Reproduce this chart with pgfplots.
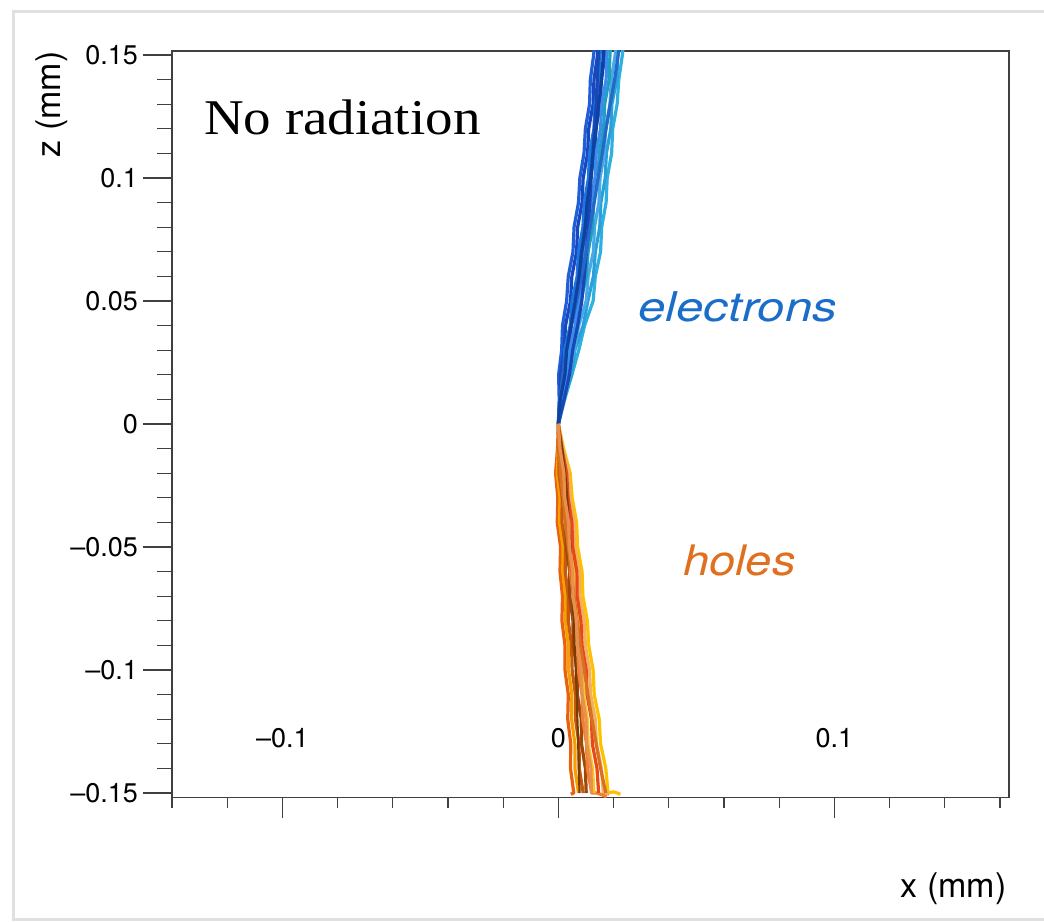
\documentclass[border=0pt]{standalone}
\usepackage{pgfplots}
\pgfplotsset{compat=1.18}
\usepackage{fontspec}
\setmainfont{TeX Gyre Heros}
\newfontfamily\timesf[FakeStretch=1.1]{Liberation Serif}
\newfontfamily\helvst[FakeStretch=1.12]{TeX Gyre Heros}
\newfontfamily\helvstw[FakeStretch=1.2]{TeX Gyre Heros}
\definecolor{etext}{HTML}{1A6EC8}
\definecolor{htext}{HTML}{E07020}
\definecolor{eA}{HTML}{1F5FD8}\definecolor{eB}{HTML}{1848C0}\definecolor{eC}{HTML}{2AA0D8}
\definecolor{eD}{HTML}{1A78E0}\definecolor{eE}{HTML}{3C8CF0}\definecolor{eF}{HTML}{1458B0}
\definecolor{eG}{HTML}{30B0E0}\definecolor{eH}{HTML}{2468C8}\definecolor{eI}{HTML}{48A8E8}
\definecolor{eJ}{HTML}{1848B8}\definecolor{eK}{HTML}{20A0C0}\definecolor{eL}{HTML}{1040A0}
\definecolor{hA}{HTML}{E86010}\definecolor{hB}{HTML}{F5A000}\definecolor{hC}{HTML}{C85A10}
\definecolor{hD}{HTML}{FFC000}\definecolor{hE}{HTML}{A04808}\definecolor{hF}{HTML}{F08030}
\definecolor{hG}{HTML}{E84818}\definecolor{hH}{HTML}{F0B060}\definecolor{hI}{HTML}{D87020}
\definecolor{hJ}{HTML}{7A3C00}\definecolor{hK}{HTML}{F8C820}\definecolor{hL}{HTML}{E89050}
\begin{document}
\begin{tikzpicture}
\useasboundingbox (-86pt,-61.65pt) rectangle (436pt,398.85pt);
\fill[white] (-86pt,-61.65pt) rectangle (436pt,398.85pt);
\draw[black!12, line width=1.5pt] (436pt,392.85pt) -- (-79pt,392.85pt) -- (-79pt,-60.65pt) -- (436pt,-60.65pt);
\begin{axis}[
  at={(0,0)}, anchor=south west, scale only axis,
  width=418.5pt, height=373.35pt,
  xmin=-0.14, xmax=0.1633, ymin=-0.1519, ymax=0.1516,
  tick align=outside, tick pos=left,
  xtick=\empty,
  ytick={-0.15,-0.1,-0.05,0,0.05,0.1,0.15},
  yticklabels={--0.15,--0.1,--0.05,0,0.05,0.1,0.15},
  minor ytick={-0.14,-0.13,-0.12,-0.11,-0.09,-0.08,-0.07,-0.06,-0.04,-0.03,-0.02,-0.01,0.01,0.02,0.03,0.04,0.06,0.07,0.08,0.09,0.11,0.12,0.13,0.14},
  major tick length=14.5pt, minor tick length=7.5pt,
  axis line style={black!75, line width=0.6pt},
  tick style={black!75, line width=0.6pt},
  yticklabel style={font=\fontsize{13.5}{15}\selectfont, anchor=east, xshift=1pt},
  ylabel={z (mm)},
  ylabel style={at={(axis description cs:-0.1435,1)}, anchor=east, inner sep=0pt, font=\fontsize{17}{20}\selectfont},
  xlabel={x (mm)},
  xlabel style={at={(axis description cs:0.9976,-0.1223)}, anchor=east, inner sep=0pt, font=\fontsize{17}{20}\selectfont},
  every axis plot/.append style={line width=1.6pt, line join=round},
  clip=true,
]
% electrons
\addplot[eA] coordinates {(0,0)(0.0003,0.01)(0.0001,0.02)(0.0012,0.03)(0.0015,0.04)(0.0030,0.05)(0.0036,0.06)(0.0053,0.07)(0.0057,0.08)(0.0073,0.09)(0.0078,0.10)(0.0093,0.11)(0.0098,0.12)(0.0113,0.13)(0.0116,0.14)(0.0128,0.15)(0.0132,0.155)};
\addplot[eG] coordinates {(0,0)(0.0023,0.01)(0.0049,0.02)(0.0074,0.03)(0.0095,0.04)(0.0126,0.05)(0.0134,0.06)(0.0153,0.07)(0.0157,0.08)(0.0173,0.09)(0.0177,0.10)(0.0193,0.11)(0.0197,0.12)(0.0213,0.13)(0.0219,0.14)(0.0232,0.15)(0.0236,0.155)};
\addplot[eB] coordinates {(0,0)(0.0006,0.01)(0.0008,0.02)(0.0021,0.03)(0.0026,0.04)(0.0044,0.05)(0.0049,0.06)(0.0066,0.07)(0.0070,0.08)(0.0086,0.09)(0.0090,0.10)(0.0106,0.11)(0.0110,0.12)(0.0126,0.13)(0.0129,0.14)(0.0142,0.15)(0.0145,0.155)};
\addplot[eC] coordinates {(0,0)(0.0020,0.01)(0.0048,0.02)(0.0060,0.03)(0.0090,0.04)(0.0107,0.05)(0.0127,0.06)(0.0134,0.07)(0.0150,0.08)(0.0154,0.09)(0.0170,0.10)(0.0174,0.11)(0.0190,0.12)(0.0194,0.13)(0.0212,0.14)(0.0215,0.15)(0.0219,0.155)};
\addplot[eD] coordinates {(0,0)(0.0005,0.01)(0.0019,0.02)(0.0023,0.03)(0.0043,0.04)(0.0050,0.05)(0.0068,0.06)(0.0073,0.07)(0.0089,0.08)(0.0094,0.09)(0.0109,0.10)(0.0113,0.11)(0.0129,0.12)(0.0133,0.13)(0.0148,0.14)(0.0151,0.15)(0.0155,0.155)};
\addplot[eI] coordinates {(0,0)(0.0021,0.01)(0.0036,0.02)(0.0058,0.03)(0.0074,0.04)(0.0101,0.05)(0.0108,0.06)(0.0127,0.07)(0.0131,0.08)(0.0147,0.09)(0.0151,0.10)(0.0167,0.11)(0.0171,0.12)(0.0187,0.13)(0.0192,0.14)(0.0206,0.15)(0.0210,0.155)};
\addplot[eF] coordinates {(0,0)(0.0012,0.01)(0.0020,0.02)(0.0036,0.03)(0.0047,0.04)(0.0068,0.05)(0.0075,0.06)(0.0092,0.07)(0.0096,0.08)(0.0112,0.09)(0.0116,0.10)(0.0132,0.11)(0.0136,0.12)(0.0152,0.13)(0.0156,0.14)(0.0169,0.15)(0.0173,0.155)};
\addplot[eK] coordinates {(0,0)(0.0014,0.01)(0.0035,0.02)(0.0044,0.03)(0.0069,0.04)(0.0082,0.05)(0.0101,0.06)(0.0108,0.07)(0.0124,0.08)(0.0128,0.09)(0.0144,0.10)(0.0148,0.11)(0.0164,0.12)(0.0168,0.13)(0.0184,0.14)(0.0187,0.15)(0.0190,0.155)};
\addplot[eE] coordinates {(0,0)(0.0011,0.01)(0.0030,0.02)(0.0037,0.03)(0.0061,0.04)(0.0072,0.05)(0.0091,0.06)(0.0097,0.07)(0.0113,0.08)(0.0117,0.09)(0.0133,0.10)(0.0137,0.11)(0.0153,0.12)(0.0157,0.13)(0.0173,0.14)(0.0176,0.15)(0.0180,0.155)};
\addplot[eJ] coordinates {(0,0)(0.0021,0.01)(0.0040,0.02)(0.0052,0.03)(0.0070,0.04)(0.0085,0.05)(0.0094,0.06)(0.0102,0.07)(0.0108,0.08)(0.0114,0.09)(0.0119,0.10)(0.0125,0.11)(0.0131,0.12)(0.0137,0.13)(0.0141,0.14)(0.0145,0.15)(0.0148,0.155)};
\addplot[eH] coordinates {(0,0)(0.0006,0.01)(0.0016,0.02)(0.0029,0.03)(0.0047,0.04)(0.0066,0.05)(0.0084,0.06)(0.0101,0.07)(0.0115,0.08)(0.0130,0.09)(0.0144,0.10)(0.0159,0.11)(0.0173,0.12)(0.0188,0.13)(0.0204,0.14)(0.0217,0.15)(0.0221,0.155)};
\addplot[eL] coordinates {(0,0)(0.0007,0.01)(0.0024,0.02)(0.0030,0.03)(0.0046,0.04)(0.0061,0.05)(0.0075,0.06)(0.0084,0.07)(0.0098,0.08)(0.0104,0.09)(0.0117,0.10)(0.0125,0.11)(0.0137,0.12)(0.0146,0.13)(0.0157,0.14)(0.0163,0.15)(0.0166,0.155)};
% holes
\addplot[hA] coordinates {(0,0)(-0.0003,-0.01)(-0.0010,-0.02)(-0.0002,-0.03)(-0.0004,-0.04)(0.0008,-0.05)(0.0006,-0.06)(0.0015,-0.07)(0.0013,-0.08)(0.0024,-0.09)(0.0024,-0.10)(0.0036,-0.11)(0.0034,-0.12)(0.0045,-0.13)(0.0044,-0.14)(0.0056,-0.15)(0.0045,-0.1505)};
\addplot[hD] coordinates {(0,0)(0.0019,-0.01)(0.0043,-0.02)(0.0050,-0.03)(0.0066,-0.04)(0.0070,-0.05)(0.0086,-0.06)(0.0089,-0.07)(0.0105,-0.08)(0.0110,-0.09)(0.0126,-0.10)(0.0130,-0.11)(0.0148,-0.12)(0.0153,-0.13)(0.0172,-0.14)(0.0180,-0.15)(0.0200,-0.1495)(0.0225,-0.1505)};
\addplot[hB] coordinates {(0,0)(0.0000,-0.01)(-0.0004,-0.02)(0.0006,-0.03)(0.0004,-0.04)(0.0017,-0.05)(0.0016,-0.06)(0.0026,-0.07)(0.0025,-0.08)(0.0036,-0.09)(0.0037,-0.10)(0.0049,-0.11)(0.0048,-0.12)(0.0060,-0.13)(0.0060,-0.14)(0.0073,-0.15)};
\addplot[hC] coordinates {(0,0)(0.0003,-0.01)(0.0002,-0.02)(0.0014,-0.03)(0.0013,-0.04)(0.0026,-0.05)(0.0025,-0.06)(0.0036,-0.07)(0.0036,-0.08)(0.0048,-0.09)(0.0050,-0.10)(0.0062,-0.11)(0.0062,-0.12)(0.0075,-0.13)(0.0076,-0.14)(0.0090,-0.15)};
\addplot[hH] coordinates {(0,0)(0.0016,-0.01)(0.0037,-0.02)(0.0042,-0.03)(0.0058,-0.04)(0.0061,-0.05)(0.0076,-0.06)(0.0078,-0.07)(0.0094,-0.08)(0.0098,-0.09)(0.0113,-0.10)(0.0117,-0.11)(0.0134,-0.12)(0.0138,-0.13)(0.0156,-0.14)(0.0163,-0.15)(0.0185,-0.1505)};
\addplot[hE] coordinates {(0,0)(0.0002,-0.01)(0.0014,-0.02)(0.0015,-0.03)(0.0027,-0.04)(0.0029,-0.05)(0.0041,-0.06)(0.0041,-0.07)(0.0053,-0.08)(0.0054,-0.09)(0.0068,-0.10)(0.0069,-0.11)(0.0083,-0.12)(0.0084,-0.13)(0.0098,-0.14)(0.0101,-0.15)};
\addplot[hF] coordinates {(0,0)(0.0010,-0.01)(0.0013,-0.02)(0.0027,-0.03)(0.0028,-0.04)(0.0042,-0.05)(0.0043,-0.06)(0.0055,-0.07)(0.0056,-0.08)(0.0070,-0.09)(0.0072,-0.10)(0.0086,-0.11)(0.0088,-0.12)(0.0102,-0.13)(0.0105,-0.14)(0.0121,-0.15)(0.0140,-0.1500)(0.0175,-0.1515)};
\addplot[hK] coordinates {(0,0)(0.0008,-0.01)(0.0024,-0.02)(0.0027,-0.03)(0.0041,-0.04)(0.0043,-0.05)(0.0057,-0.06)(0.0057,-0.07)(0.0071,-0.08)(0.0074,-0.09)(0.0088,-0.10)(0.0091,-0.11)(0.0105,-0.12)(0.0108,-0.13)(0.0124,-0.14)(0.0129,-0.15)};
\addplot[hG] coordinates {(0,0)(0.0013,-0.01)(0.0030,-0.02)(0.0035,-0.03)(0.0049,-0.04)(0.0052,-0.05)(0.0067,-0.06)(0.0068,-0.07)(0.0082,-0.08)(0.0086,-0.09)(0.0101,-0.10)(0.0104,-0.11)(0.0120,-0.12)(0.0123,-0.13)(0.0140,-0.14)(0.0146,-0.15)};
\addplot[hJ, line width=1.1pt] coordinates {(0,0)(0.0014,-0.01)(0.0025,-0.02)(0.0032,-0.03)(0.0038,-0.04)(0.0044,-0.05)(0.0048,-0.06)(0.0052,-0.07)(0.0055,-0.08)(0.0059,-0.09)(0.0063,-0.10)(0.0067,-0.11)(0.0069,-0.12)(0.0072,-0.13)(0.0074,-0.14)(0.0077,-0.15)};
\addplot[hI] coordinates {(0,0)(0.0002,-0.01)(0.0008,-0.02)(0.0017,-0.03)(0.0026,-0.04)(0.0036,-0.05)(0.0047,-0.06)(0.0057,-0.07)(0.0068,-0.08)(0.0080,-0.09)(0.0094,-0.10)(0.0107,-0.11)(0.0122,-0.12)(0.0137,-0.13)(0.0153,-0.14)(0.0172,-0.15)};
\addplot[hL] coordinates {(0,0)(0.0006,-0.01)(0.0020,-0.02)(0.0023,-0.03)(0.0037,-0.04)(0.0040,-0.05)(0.0052,-0.06)(0.0053,-0.07)(0.0066,-0.08)(0.0069,-0.09)(0.0083,-0.10)(0.0086,-0.11)(0.0100,-0.12)(0.0103,-0.13)(0.0118,-0.14)(0.0120,-0.15)};
% texts
\node[anchor=base west, inner sep=0pt, font=\timesf\fontsize{25}{30}\selectfont] at (axis cs:-0.1285,0.1175) {No radiation};
\node[anchor=base west, inner sep=0pt, text=etext, font=\helvstw\itshape\fontsize{20.5}{24}\selectfont] at (axis cs:0.0288,0.0415) {electrons};
\node[anchor=base west, inner sep=0pt, text=htext, font=\helvst\itshape\fontsize{21}{25}\selectfont] at (axis cs:0.0451,-0.0614) {holes};
\end{axis}
\begin{axis}[
  at={(0,0)}, anchor=south west, scale only axis,
  width=418.5pt, height=373.35pt,
  xmin=-0.14, xmax=0.1633, ymin=-0.1519, ymax=0.1516,
  tick align=outside, tick pos=left,
  axis line style={draw=none},
  ytick=\empty,
  xtick={-0.1,0,0.1},
  xticklabels={--0.1,0,0.1},
  minor xtick={-0.14,-0.12,-0.08,-0.06,-0.04,-0.02,0.02,0.04,0.06,0.08,0.12,0.14,0.16},
  major tick length=10pt, minor tick length=5pt,
  tick style={black!75, line width=0.6pt},
  xticklabel style={font=\fontsize{13.5}{15}\selectfont, anchor=center, yshift=39.85pt},
]
\addplot[draw=none] coordinates {(0,0)};
\end{axis}
\end{tikzpicture}
\end{document}
